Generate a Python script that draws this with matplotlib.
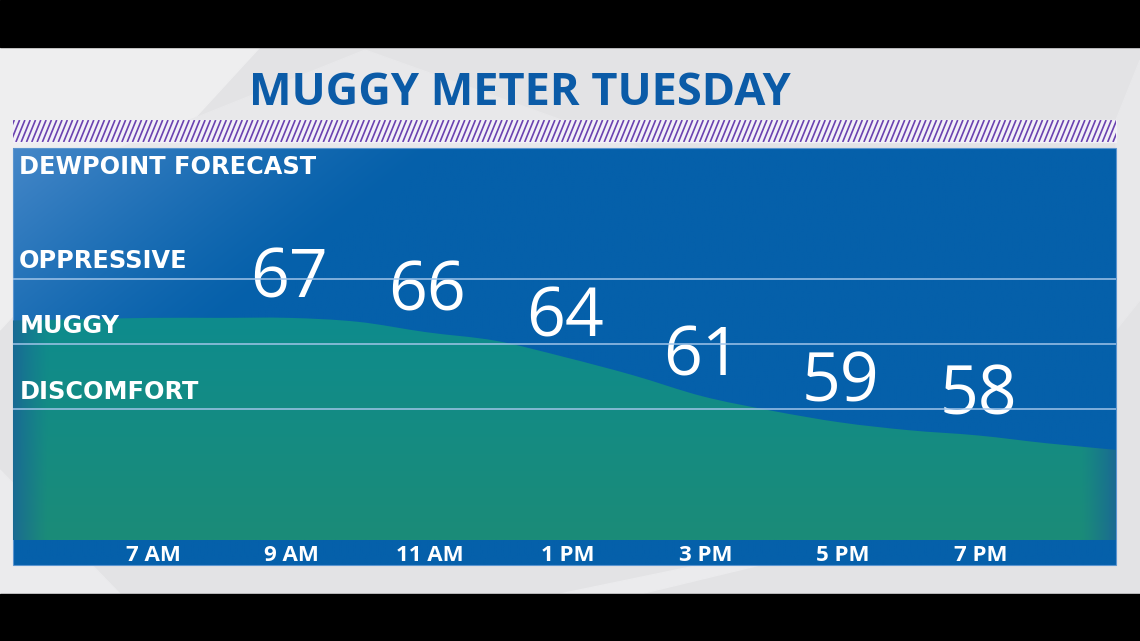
import numpy as np
import matplotlib
matplotlib.use("Agg")
import matplotlib.pyplot as plt
from matplotlib.path import Path
from matplotlib.patches import PathPatch, Rectangle, Polygon
from matplotlib.collections import LineCollection
from matplotlib.colors import to_rgb
from matplotlib.transforms import ScaledTranslation

# ---------------- data ----------------
title = "MUGGY METER TUESDAY"
subtitle = "DEWPOINT FORECAST"
hours = list(range(5, 22))  # 5 AM .. 9 PM
dewpoint_curve = [66.8, 66.9, 67.0, 67.0, 67.0, 66.7, 65.9, 65.25, 64.0,
                  62.6, 61.0, 59.9, 59.0, 58.4, 58.0, 57.4, 56.9]
label_hours = [9, 11, 13, 15, 17, 19]
label_values = [67, 66, 64, 61, 59, 58]
tick_hours = [7, 9, 11, 13, 15, 17, 19]
tick_labels = ["7 AM", "9 AM", "11 AM", "1 PM", "3 PM", "5 PM", "7 PM"]
threshold_values = [70, 65, 60]
threshold_names = ["OPPRESSIVE", "MUGGY", "DISCOMFORT"]
y_range = (50, 80)
x_range = (5, 21)

# ---------------- figure / background ----------------
W, H = 1140, 641
fig = plt.figure(figsize=(W / 100, H / 100), dpi=100)
bg = fig.add_axes([0, 0, 1, 1])
bg.axis("off")

bg.add_patch(Rectangle((0, 0), W, H, color="#e3e3e5", zorder=0))
bg.add_patch(Polygon([(0, 47), (260, 47), (0, 330)], closed=True, color="#eeeeef", zorder=0.1))
bg.add_patch(Polygon([(120, 148), (365, 50), (640, 148)], closed=True, color="#e8e8ea", zorder=0.1))
bg.add_patch(Polygon([(0, 594), (0, 470), (120, 594)], closed=True, color="#ebebed", zorder=0.1))
bg.add_patch(Polygon([(560, 594), (700, 565), (760, 565), (640, 594)], closed=True, color="#ebebed", zorder=0.1))
bg.add_patch(Polygon([(1116, 120), (1140, 60), (1140, 300), (1116, 330)], closed=True, color="#e8e8ea", zorder=0.1))

# black letterbox bars
bg.add_patch(Rectangle((0, 0), W, 47, color="black", zorder=3))
bg.add_patch(Rectangle((0, 594), W, H - 594, color="black", zorder=3))

# title
bg.text(520, 105, title, ha="center", va="baseline", fontsize=32.5,
        fontweight="bold", family="Open Sans", color="#0b5ba7", zorder=4)

# purple hatched stripe
stripe = Rectangle((13, 120), 1103, 22, color="#f2f0f7", zorder=1)
bg.add_patch(stripe)
segs = [[(x0, 142), (x0 + 9, 120)] for x0 in np.arange(0, 1130, 5.3)]
lc = LineCollection(segs, colors="#6b42b0", linewidths=1.2, zorder=2)
bg.add_collection(lc)
lc.set_clip_path(Rectangle((13, 120), 1103, 22, transform=bg.transData))

# blue panel with soft highlight in top-left
ny, nx = 140, 320
yy, xx = np.mgrid[0:ny, 0:nx]
px = 13 + xx / (nx - 1) * 1103
py = 148 + yy / (ny - 1) * 417
light = np.clip(1 - (px - 13) / 430 - (py - 148) / 340, 0, 1) ** 1.3
base = np.array(to_rgb("#0560aa"))
hi = np.array(to_rgb("#4587c8"))
panel_img = base + (hi - base) * light[..., None]
bg.imshow(panel_img, extent=(13, 1116, 565, 148), origin="upper",
          aspect="auto", zorder=1, interpolation="bilinear")
bg.add_patch(Rectangle((13, 148), 1103, 417, fill=False, edgecolor="#5b95cf",
                       lw=0.8, zorder=1.5))
bg.set_xlim(0, W)
bg.set_ylim(H, 0)

# ---------------- chart axes ----------------
ax = fig.add_axes([13 / W, 1 - 540 / H, 1103 / W, 392 / H])
ax.set_facecolor("none")

# smooth area outline (Catmull-Rom -> cubic Bezier) in data space
xv = np.array(hours, float)
yv = np.array(dewpoint_curve, float)
n = len(xv)
verts = [(xv[0], y_range[0]), (xv[0], yv[0])]
codes = [Path.MOVETO, Path.LINETO]
for i in range(n - 1):
    p0 = np.array([xv[max(i - 1, 0)], yv[max(i - 1, 0)]])
    p1 = np.array([xv[i], yv[i]])
    p2 = np.array([xv[i + 1], yv[i + 1]])
    p3 = np.array([xv[min(i + 2, n - 1)], yv[min(i + 2, n - 1)]])
    c1 = p1 + (p2 - p0) / 6.0
    c2 = p2 - (p3 - p1) / 6.0
    verts += [tuple(c1), tuple(c2), tuple(p2)]
    codes += [Path.CURVE4] * 3
verts += [(xv[-1], y_range[0]), (xv[0], y_range[0])]
codes += [Path.LINETO, Path.CLOSEPOLY]
area_path = Path(verts, codes)
area_patch = PathPatch(area_path, facecolor="none", edgecolor="none",
                       transform=ax.transData)
ax.add_patch(area_patch)

# green gradient fill with blue fade at the edges
gy, gx = 200, 500
Y, X = np.mgrid[0:gy, 0:gx]
yd = y_range[1] - Y / (gy - 1) * (y_range[1] - y_range[0])
xd = x_range[0] + X / (gx - 1) * (x_range[1] - x_range[0])
t = np.clip((67 - yd) / 17.0, 0, 1)[..., None]
top_c = np.array(to_rgb("#0e8b8d"))
bot_c = np.array(to_rgb("#1b8c78"))
green = top_c * (1 - t) + bot_c * t
edge_c = np.array(to_rgb("#1a6596"))
fl = np.clip(1 - (xd - x_range[0]) / 0.5, 0, 1)
fr = np.clip(1 - (x_range[1] - xd) / 0.5, 0, 1)
f = (np.maximum(fl, fr) ** 1.2 * 0.85)[..., None]
green = green * (1 - f) + edge_c * f
im = ax.imshow(green, extent=(x_range[0], x_range[1], y_range[0], y_range[1]),
               origin="upper", aspect="auto", zorder=1, interpolation="bilinear")
im.set_clip_path(area_patch)

# dewpoint numbers
for h, v in zip(label_hours, label_values):
    ax.annotate(str(v), (h, v), xytext=(0, 15), textcoords="offset points",
                ha="center", va="baseline", fontsize=49, family="Open Sans",
                color="white", zorder=4)

# threshold lines and labels
for v, name in zip(threshold_values, threshold_names):
    ax.axhline(v, color="#a3c6ea", lw=1.2, alpha=0.9, zorder=5)
    ax.annotate(name, (0, v), xycoords=("axes fraction", "data"),
                xytext=(4.5, 7.6), textcoords="offset points", ha="left",
                va="baseline", fontsize=17.3, fontweight="bold",
                family="DejaVu Sans", color="white", zorder=6)

ax.annotate(subtitle, (0, 1), xycoords="axes fraction", xytext=(4.5, -19),
            textcoords="offset points", ha="left", va="baseline",
            fontsize=17.3, fontweight="bold", family="DejaVu Sans",
            color="white", zorder=6)

ax.set_xlim(*x_range)
ax.set_ylim(*y_range)
ax.set_xticks(tick_hours)
ax.set_xticklabels(tick_labels, family="Open Sans", fontweight="bold",
                   fontsize=16, color="white")
ax.tick_params(axis="x", length=0, pad=3.5)
shift = ScaledTranslation(3 / 100, 0, fig.dpi_scale_trans)
for lbl in ax.get_xticklabels():
    lbl.set_transform(lbl.get_transform() + shift)
ax.set_yticks([])
for s in ax.spines.values():
    s.set_visible(False)

fig.savefig("out.png", dpi=100)
